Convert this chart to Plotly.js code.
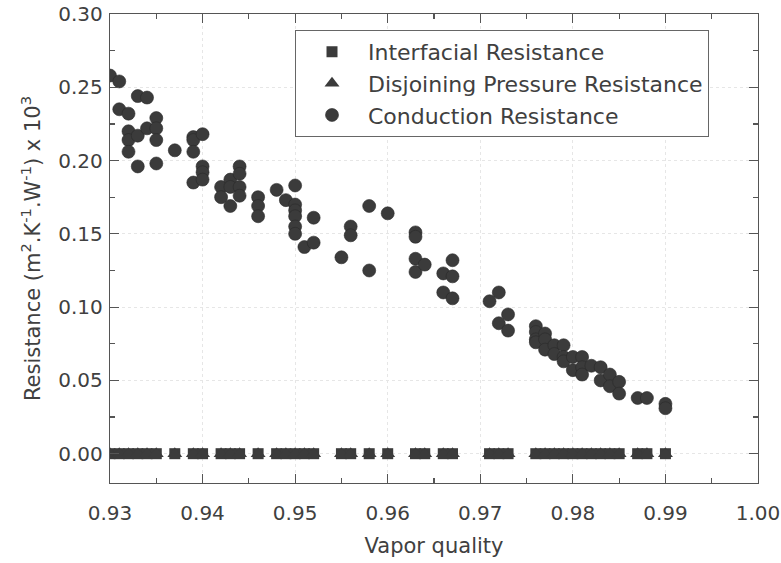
<!DOCTYPE html>
<html>
<head>
<meta charset="utf-8">
<script src="https://cdn.plot.ly/plotly-3.0.1.min.js"></script>
<style>html,body{margin:0;padding:0;background:#fff;}#chart{width:781px;height:563px;}</style>
</head>
<body>
<div id="chart"></div>
<script>
// Conduction resistance points (vapor quality, resistance x 10^3)
const conductionQuality = [
  0.930,
  0.931, 0.931,
  0.932, 0.932, 0.932, 0.932,
  0.933, 0.933, 0.933,
  0.934, 0.934,
  0.935, 0.935, 0.935, 0.935,
  0.937,
  0.939, 0.939, 0.939, 0.939,
  0.940, 0.940, 0.940, 0.940,
  0.942, 0.942,
  0.943, 0.943, 0.943,
  0.944, 0.944, 0.944, 0.944,
  0.946, 0.946, 0.946,
  0.948,
  0.949,
  0.950, 0.950, 0.950, 0.950, 0.950, 0.950,
  0.951,
  0.952, 0.952,
  0.955,
  0.956, 0.956,
  0.958, 0.958,
  0.960,
  0.963, 0.963, 0.963, 0.963,
  0.964,
  0.966, 0.966,
  0.967, 0.967, 0.967,
  0.971,
  0.972, 0.972,
  0.973, 0.973,
  0.976, 0.976, 0.976, 0.976,
  0.977, 0.977, 0.977,
  0.978, 0.978,
  0.979, 0.979, 0.979,
  0.980, 0.980,
  0.981, 0.981, 0.981,
  0.982,
  0.983, 0.983,
  0.984, 0.984,
  0.985, 0.985,
  0.987,
  0.988,
  0.990, 0.990
];
const conductionResistance = [
  0.258,
  0.254, 0.235,
  0.232, 0.220, 0.214, 0.206,
  0.244, 0.217, 0.196,
  0.243, 0.222,
  0.229, 0.222, 0.214, 0.198,
  0.207,
  0.216, 0.214, 0.206, 0.185,
  0.218, 0.196, 0.192, 0.187,
  0.182, 0.175,
  0.187, 0.182, 0.169,
  0.196, 0.191, 0.182, 0.176,
  0.175, 0.169, 0.162,
  0.180,
  0.173,
  0.183, 0.170, 0.166, 0.162, 0.155, 0.150,
  0.141,
  0.161, 0.144,
  0.134,
  0.155, 0.149,
  0.169, 0.125,
  0.164,
  0.151, 0.148, 0.133, 0.124,
  0.129,
  0.123, 0.110,
  0.132, 0.121, 0.106,
  0.104,
  0.110, 0.089,
  0.095, 0.084,
  0.087, 0.083, 0.078, 0.076,
  0.082, 0.078, 0.071,
  0.074, 0.068,
  0.074, 0.066, 0.063,
  0.066, 0.057,
  0.066, 0.059, 0.054,
  0.060,
  0.059, 0.050,
  0.054, 0.046,
  0.049, 0.041,
  0.038,
  0.038,
  0.034, 0.031
];
// Interfacial and disjoining pressure resistances (all read as ~0)
const qualityLevels = [
  0.930, 0.931, 0.932, 0.933, 0.934, 0.935, 0.937, 0.939, 0.940, 0.942,
  0.943, 0.944, 0.946, 0.948, 0.949, 0.950, 0.951, 0.952, 0.955, 0.956,
  0.958, 0.960, 0.963, 0.964, 0.966, 0.967, 0.971, 0.972, 0.973, 0.976,
  0.977, 0.978, 0.979, 0.980, 0.981, 0.982, 0.983, 0.984, 0.985, 0.987,
  0.988, 0.990
];
const interfacialResistance = [
  0, 0, 0, 0, 0, 0, 0, 0, 0, 0,
  0, 0, 0, 0, 0, 0, 0, 0, 0, 0,
  0, 0, 0, 0, 0, 0, 0, 0, 0, 0,
  0, 0, 0, 0, 0, 0, 0, 0, 0, 0,
  0, 0
];
const disjoiningResistance = [
  0, 0, 0, 0, 0, 0, 0, 0, 0, 0,
  0, 0, 0, 0, 0, 0, 0, 0, 0, 0,
  0, 0, 0, 0, 0, 0, 0, 0, 0, 0,
  0, 0, 0, 0, 0, 0, 0, 0, 0, 0,
  0, 0
];
const seriesNames = ['Interfacial Resistance', 'Disjoining Pressure Resistance', 'Conduction Resistance'];
const xTickVals = [0.93, 0.94, 0.95, 0.96, 0.97, 0.98, 0.99, 1.00];
const xTickText = ['0.93', '0.94', '0.95', '0.96', '0.97', '0.98', '0.99', '1.00'];
const yTickVals = [0.00, 0.05, 0.10, 0.15, 0.20, 0.25, 0.30];
const yTickText = ['0.00', '0.05', '0.10', '0.15', '0.20', '0.25', '0.30'];

const markColor = '#3b3b3b';
const textColor = '#404040';
const axisColor = '#555555';
const fontFam = '"DejaVu Sans", "Liberation Sans", Arial, sans-serif';

const traces = [
  {
    x: qualityLevels, y: interfacialResistance, name: seriesNames[0],
    type: 'scatter', mode: 'markers',
    marker: {symbol: 'square', size: 11, color: markColor, line: {width: 0}}
  },
  {
    x: qualityLevels, y: disjoiningResistance, name: seriesNames[1],
    type: 'scatter', mode: 'markers',
    marker: {symbol: 'triangle-up', size: 13, color: markColor, line: {width: 0}}
  },
  {
    x: conductionQuality, y: conductionResistance, name: seriesNames[2],
    type: 'scatter', mode: 'markers',
    marker: {symbol: 'circle', size: 13, color: markColor, line: {width: 0.6, color: '#2a2a2a'}}
  }
];

const axisCommon = {
  showline: true, linecolor: axisColor, linewidth: 1.2, mirror: 'allticks',
  ticks: 'inside', ticklen: 9, tickwidth: 1.2, tickcolor: axisColor,
  showgrid: true, gridcolor: '#e6e6e6', griddash: 'dot', gridwidth: 1,
  zeroline: false,
  tickfont: {family: fontFam, size: 20, color: textColor}
};

const layout = {
  width: 781, height: 563,
  margin: {l: 110, r: 23, t: 14, b: 80},
  paper_bgcolor: '#ffffff', plot_bgcolor: '#ffffff',
  font: {family: fontFam, color: textColor},
  showlegend: true,
  legend: {
    x: 0.2855, y: 0.966, xanchor: 'left', yanchor: 'top',
    bgcolor: '#ffffff', bordercolor: '#666666', borderwidth: 1,
    font: {family: fontFam, size: 22, color: textColor},
    itemwidth: 62, tracegroupgap: 0
  },
  xaxis: Object.assign({}, axisCommon, {
    range: [0.93, 1.00], tickmode: 'array', tickvals: xTickVals, ticktext: xTickText,
    ticklabelstandoff: 12,
    minor: {dtick: 0.005, ticks: 'inside', ticklen: 5, tickwidth: 1.2, tickcolor: axisColor, showgrid: false},
    title: {text: 'Vapor quality', font: {family: fontFam, size: 21, color: textColor}, standoff: 14}
  }),
  yaxis: Object.assign({}, axisCommon, {
    range: [-0.02, 0.30], tickmode: 'array', tickvals: yTickVals, ticktext: yTickText,
    ticklabelstandoff: 2,
    minor: {dtick: 0.025, ticks: 'inside', ticklen: 5, tickwidth: 1.2, tickcolor: axisColor, showgrid: false},
    title: {text: 'Resistance (m<sup>2</sup>.K<sup>-1</sup>.W<sup>-1</sup>) x 10<sup>3</sup>', font: {family: fontFam, size: 21, color: textColor}, standoff: 12}
  })
};

Plotly.newPlot('chart', traces, layout, {displayModeBar: false, staticPlot: true});
</script>
</body>
</html>
